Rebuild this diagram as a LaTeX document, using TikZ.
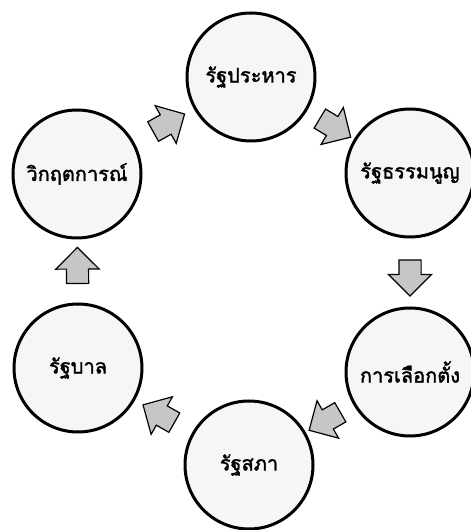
\documentclass[tikz,border=0pt]{standalone}
\usepackage{fontspec}
\newfontfamily\thaifont[Script=Thai, AutoFakeBold=1.8]{Loma}
\usetikzlibrary{shapes.arrows}
\tikzset{
    stage/.style={circle, draw, line width=3pt, fill=gray!7,
        minimum size=128pt, inner sep=0pt,
        font=\thaifont\bfseries\fontsize{20}{24}\selectfont},
    flow/.style={single arrow, draw, line width=1.2pt, fill=gray!45,
        minimum height=36pt, inner xsep=0pt, inner ysep=10.5pt,
        single arrow head extend=10.5pt, sloped, allow upside down}
}
\begin{document}
\begin{tikzpicture}[x=1pt, y=1pt]
    \useasboundingbox (0,0) rectangle (471,530);

    % วงกลมทั้งหกขั้น
    \node[stage] (coup)         at (251,453) {รัฐประหาร};
    \node[stage] (constitution) at (410,357) {รัฐธรรมนูญ};
    \node[stage] (election)     at (410,158) {การเลือกตั้ง};
    \node[stage] (parliament)   at (249,65)  {รัฐสภา};
    \node[stage] (government)   at (78,162)  {รัฐบาล};
    \node[stage] (crisis)       at (77,356)  {วิกฤตการณ์};

    % ลูกศรระหว่างขั้น
    \path (coup) -- (constitution) node[flow, midway] (f1) {};
    \path (constitution) -- (election) node[flow, midway] (f2) {};
    \path (election) -- (parliament) node[flow, midway] (f3) {};
    \path (parliament) -- (government) node[flow, midway] (f4) {};
    \path (government) -- (crisis) node[flow, midway] (f5) {};
    \path (crisis) -- (coup) node[flow, midway] (f6) {};

\end{tikzpicture}
\end{document}
